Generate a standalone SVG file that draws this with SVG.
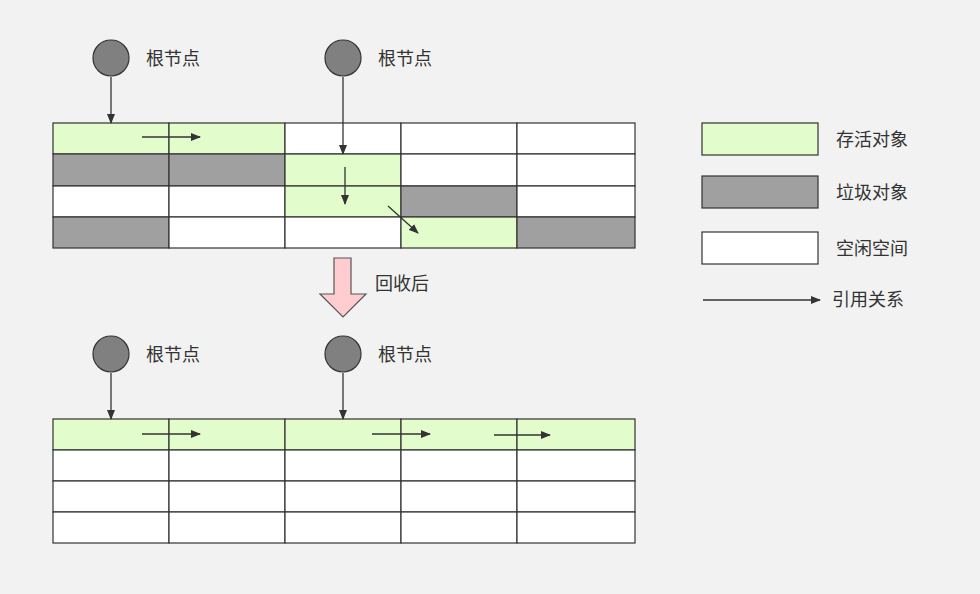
<svg xmlns="http://www.w3.org/2000/svg" width="980" height="594" viewBox="0 0 980 594">
<defs>
<marker id="ah" markerWidth="10" markerHeight="8" refX="9" refY="4" orient="auto" markerUnits="userSpaceOnUse">
<path d="M0,0 L10,4 L0,8 Z" fill="#333"/>
</marker>
<style>
text{font-family:"Noto Sans CJK SC","Liberation Sans",sans-serif;font-size:18px;fill:#333}
.g{fill:#e2fccb;stroke:#333;stroke-width:1.2}
.d{fill:#a0a0a0;stroke:#333;stroke-width:1.2}
.w{fill:#fff;stroke:#333;stroke-width:1.2}
.root{fill:#808080;stroke:#333;stroke-width:1.2}
.c{stroke:#333;stroke-width:1.3;fill:none;marker-end:url(#ah)}
</style>
</defs>
<rect width="980" height="594" fill="#f2f2f2"/>
<g id="grid-before">
<rect class="g" x="53" y="123" width="116" height="31"/>
<rect class="g" x="169" y="123" width="116" height="31"/>
<rect class="w" x="285" y="123" width="116" height="31"/>
<rect class="w" x="401" y="123" width="116" height="31"/>
<rect class="w" x="517" y="123" width="118" height="31"/>
<rect class="d" x="53" y="154" width="116" height="32"/>
<rect class="d" x="169" y="154" width="116" height="32"/>
<rect class="g" x="285" y="154" width="116" height="32"/>
<rect class="w" x="401" y="154" width="116" height="32"/>
<rect class="w" x="517" y="154" width="118" height="32"/>
<rect class="w" x="53" y="186" width="116" height="31"/>
<rect class="w" x="169" y="186" width="116" height="31"/>
<rect class="g" x="285" y="186" width="116" height="31"/>
<rect class="d" x="401" y="186" width="116" height="31"/>
<rect class="w" x="517" y="186" width="118" height="31"/>
<rect class="d" x="53" y="217" width="116" height="31"/>
<rect class="w" x="169" y="217" width="116" height="31"/>
<rect class="w" x="285" y="217" width="116" height="31"/>
<rect class="g" x="401" y="217" width="116" height="31"/>
<rect class="d" x="517" y="217" width="118" height="31"/>
</g>
<g id="grid-after">
<rect class="g" x="53" y="419" width="116" height="31"/>
<rect class="g" x="169" y="419" width="116" height="31"/>
<rect class="g" x="285" y="419" width="116" height="31"/>
<rect class="g" x="401" y="419" width="116" height="31"/>
<rect class="g" x="517" y="419" width="118" height="31"/>
<rect class="w" x="53" y="450" width="116" height="31"/>
<rect class="w" x="169" y="450" width="116" height="31"/>
<rect class="w" x="285" y="450" width="116" height="31"/>
<rect class="w" x="401" y="450" width="116" height="31"/>
<rect class="w" x="517" y="450" width="118" height="31"/>
<rect class="w" x="53" y="481" width="116" height="31"/>
<rect class="w" x="169" y="481" width="116" height="31"/>
<rect class="w" x="285" y="481" width="116" height="31"/>
<rect class="w" x="401" y="481" width="116" height="31"/>
<rect class="w" x="517" y="481" width="118" height="31"/>
<rect class="w" x="53" y="512" width="116" height="31"/>
<rect class="w" x="169" y="512" width="116" height="31"/>
<rect class="w" x="285" y="512" width="116" height="31"/>
<rect class="w" x="401" y="512" width="116" height="31"/>
<rect class="w" x="517" y="512" width="118" height="31"/>
</g>
<g id="root1"><circle class="root" cx="111" cy="58" r="18"/><text x="146" y="65">根节点</text></g>
<g id="root2"><circle class="root" cx="343" cy="58" r="18"/><text x="378" y="65">根节点</text></g>
<g id="root3"><ellipse class="root" cx="111" cy="354" rx="18" ry="18"/><text x="146" y="361">根节点</text></g>
<g id="root4"><ellipse class="root" cx="343" cy="354" rx="18" ry="18"/><text x="378" y="361">根节点</text></g>
<g id="collect">
<path d="M334,258 H351 V294 H366 L343,317 L320,294 H334 Z" fill="#ffccd0" stroke="#555" stroke-width="1.2"/>
<text x="375" y="290">回收后</text>
</g>
<g id="legend">
<rect class="g" x="702" y="123" width="116" height="32"/>
<text x="836" y="146">存活对象</text>
<rect class="d" x="702" y="176" width="116" height="32"/>
<text x="836" y="199">垃圾对象</text>
<rect class="w" x="702" y="232" width="116" height="32"/>
<text x="836" y="255">空闲空间</text>
<line class="c" x1="703" y1="300" x2="820" y2="300"/>
<text x="832" y="306">引用关系</text>
</g>
<g id="connectors">
<line class="c" x1="111" y1="77" x2="111" y2="123"/>
<line class="c" x1="343" y1="77" x2="343" y2="154"/>
<line class="c" x1="142" y1="137" x2="200" y2="137"/>
<line class="c" x1="345" y1="167" x2="345" y2="204"/>
<line class="c" x1="388" y1="206" x2="418" y2="233"/>
<line class="c" x1="111" y1="373" x2="111" y2="419"/>
<line class="c" x1="343" y1="373" x2="343" y2="419"/>
<line class="c" x1="142" y1="434" x2="200" y2="434"/>
<line class="c" x1="372" y1="434" x2="430" y2="434"/>
<line class="c" x1="494" y1="435" x2="550" y2="435"/>
</g>
</svg>
